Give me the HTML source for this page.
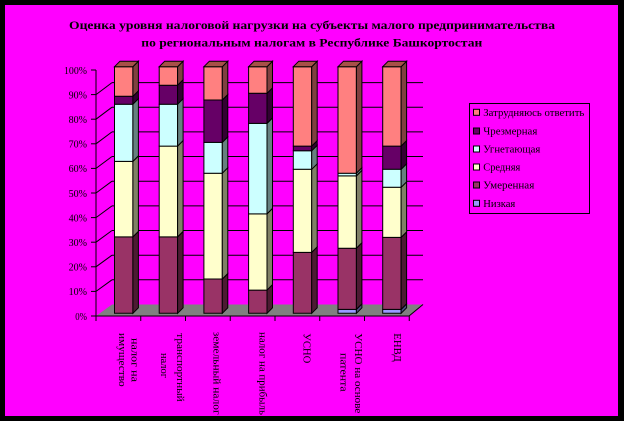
<!DOCTYPE html>
<html>
<head>
<meta charset="utf-8">
<style>
html,body{margin:0;padding:0;background:#000;}
svg{display:block;}
text{font-family:"Liberation Serif","DejaVu Serif",serif;fill:#000;}
</style>
</head>
<body>
<svg width="624" height="421" viewBox="0 0 624 421" xmlns="http://www.w3.org/2000/svg">
<rect x="0" y="0" width="624" height="421" fill="#000"/>
<rect x="5" y="5" width="613" height="411" fill="#FF00FF"/>

<!-- Title -->
<text x="69" y="29" font-size="12" font-weight="bold" textLength="486" lengthAdjust="spacingAndGlyphs">Оценка уровня налоговой нагрузки на субъекты малого предпринимательства</text>
<text x="141.3" y="46.5" font-size="12" font-weight="bold" textLength="341" lengthAdjust="spacingAndGlyphs">по региональным налогам в Республике Башкортостан</text>

<!-- Floor -->
<polygon points="96,316 409,316 423,304.5 112,304.5" fill="#808080"/>
<line x1="409" y1="316" x2="423" y2="304.5" stroke="#000" stroke-width="1"/>

<!-- Back wall gridlines and left wall diagonals -->
<g stroke="#000" stroke-width="1" fill="none">
<line x1="112" y1="279.8" x2="423" y2="279.8"/>
<line x1="112" y1="255.2" x2="423" y2="255.2"/>
<line x1="112" y1="230.5" x2="423" y2="230.5"/>
<line x1="112" y1="205.9" x2="423" y2="205.9"/>
<line x1="112" y1="181.2" x2="423" y2="181.2"/>
<line x1="112" y1="156.5" x2="423" y2="156.5"/>
<line x1="112" y1="131.9" x2="423" y2="131.9"/>
<line x1="112" y1="107.2" x2="423" y2="107.2"/>
<line x1="112" y1="82.6" x2="423" y2="82.6"/>
<line x1="96" y1="291.4" x2="112" y2="279.8"/>
<line x1="96" y1="266.8" x2="112" y2="255.2"/>
<line x1="96" y1="242.2" x2="112" y2="230.5"/>
<line x1="96" y1="217.6" x2="112" y2="205.9"/>
<line x1="96" y1="193" x2="112" y2="181.2"/>
<line x1="96" y1="168.4" x2="112" y2="156.5"/>
<line x1="96" y1="143.8" x2="112" y2="131.9"/>
<line x1="96" y1="119.2" x2="112" y2="107.2"/>
<line x1="96" y1="94.6" x2="112" y2="82.6"/>
</g>

<!-- Axes -->
<g stroke="#000" stroke-width="1">
<line x1="96" y1="70" x2="96" y2="321"/>
<line x1="91" y1="316" x2="409.5" y2="316"/>
<line x1="91" y1="291.4" x2="96" y2="291.4"/>
<line x1="91" y1="266.8" x2="96" y2="266.8"/>
<line x1="91" y1="242.2" x2="96" y2="242.2"/>
<line x1="91" y1="217.6" x2="96" y2="217.6"/>
<line x1="91" y1="193" x2="96" y2="193"/>
<line x1="91" y1="168.4" x2="96" y2="168.4"/>
<line x1="91" y1="143.8" x2="96" y2="143.8"/>
<line x1="91" y1="119.2" x2="96" y2="119.2"/>
<line x1="91" y1="94.6" x2="96" y2="94.6"/>
<line x1="91" y1="70" x2="96" y2="70"/>
<line x1="140.75" y1="316" x2="140.75" y2="321"/>
<line x1="185.5" y1="316" x2="185.5" y2="321"/>
<line x1="230.25" y1="316" x2="230.25" y2="321"/>
<line x1="275" y1="316" x2="275" y2="321"/>
<line x1="319.75" y1="316" x2="319.75" y2="321"/>
<line x1="364.5" y1="316" x2="364.5" y2="321"/>
<line x1="409.25" y1="316" x2="409.25" y2="321"/>
</g>

<!-- Y labels -->
<g font-size="11" text-anchor="end">
<text x="87" y="73.8" textLength="23" lengthAdjust="spacingAndGlyphs">100%</text>
<text x="87" y="98.4" textLength="18.4" lengthAdjust="spacingAndGlyphs">90%</text>
<text x="87" y="123" textLength="18.4" lengthAdjust="spacingAndGlyphs">80%</text>
<text x="87" y="147.6" textLength="18.4" lengthAdjust="spacingAndGlyphs">70%</text>
<text x="87" y="172.2" textLength="18.4" lengthAdjust="spacingAndGlyphs">60%</text>
<text x="87" y="196.8" textLength="18.4" lengthAdjust="spacingAndGlyphs">50%</text>
<text x="87" y="221.4" textLength="18.4" lengthAdjust="spacingAndGlyphs">40%</text>
<text x="87" y="246" textLength="18.4" lengthAdjust="spacingAndGlyphs">30%</text>
<text x="87" y="270.6" textLength="18.4" lengthAdjust="spacingAndGlyphs">20%</text>
<text x="87" y="295.2" textLength="18.4" lengthAdjust="spacingAndGlyphs">10%</text>
<text x="87" y="319.8" textLength="11.7" lengthAdjust="spacingAndGlyphs">0%</text>
</g>

<!-- Bars -->
<g stroke="#000" stroke-width="1" stroke-linejoin="miter">
<!-- Bar 1 -->
<g transform="translate(114.5,0)">
<polygon points="0,313.3 0,236.9 18.4,236.9 18.4,313.3" fill="#993366"/>
<polygon points="18.4,313.3 18.4,236.9 23.9,231.4 23.9,307.8" fill="#4D1A33"/>
<polygon points="0,236.9 0,161.4 18.4,161.4 18.4,236.9" fill="#FFFFCC"/>
<polygon points="18.4,236.9 18.4,161.4 23.9,155.9 23.9,231.4" fill="#808066"/>
<polygon points="0,161.4 0,104.2 18.4,104.2 18.4,161.4" fill="#CCFFFF"/>
<polygon points="18.4,161.4 18.4,104.2 23.9,98.7 23.9,155.9" fill="#668080"/>
<polygon points="0,104.2 0,96.3 18.4,96.3 18.4,104.2" fill="#660066"/>
<polygon points="18.4,104.2 18.4,96.3 23.9,90.8 23.9,98.7" fill="#330033"/>
<polygon points="0,96.3 0,66.7 18.4,66.7 18.4,96.3" fill="#FF8080"/>
<polygon points="18.4,96.3 18.4,66.7 23.9,61.2 23.9,90.8" fill="#804040"/>
<polygon points="0,66.7 5.5,61.2 23.9,61.2 18.4,66.7" fill="#A85048"/>
</g>
<!-- Bar 2 -->
<g transform="translate(159.2,0)">
<polygon points="0,313.3 0,236.9 18.4,236.9 18.4,313.3" fill="#993366"/>
<polygon points="18.4,313.3 18.4,236.9 23.9,231.4 23.9,307.8" fill="#4D1A33"/>
<polygon points="0,236.9 0,146.1 18.4,146.1 18.4,236.9" fill="#FFFFCC"/>
<polygon points="18.4,236.9 18.4,146.1 23.9,140.6 23.9,231.4" fill="#808066"/>
<polygon points="0,146.1 0,104.2 18.4,104.2 18.4,146.1" fill="#CCFFFF"/>
<polygon points="18.4,146.1 18.4,104.2 23.9,98.7 23.9,140.6" fill="#668080"/>
<polygon points="0,104.2 0,85.2 18.4,85.2 18.4,104.2" fill="#660066"/>
<polygon points="18.4,104.2 18.4,85.2 23.9,79.7 23.9,98.7" fill="#330033"/>
<polygon points="0,85.2 0,66.7 18.4,66.7 18.4,85.2" fill="#FF8080"/>
<polygon points="18.4,85.2 18.4,66.7 23.9,61.2 23.9,79.7" fill="#804040"/>
<polygon points="0,66.7 5.5,61.2 23.9,61.2 18.4,66.7" fill="#A85048"/>
</g>
<!-- Bar 3 -->
<g transform="translate(203.9,0)">
<polygon points="0,313.3 0,279 18.4,279 18.4,313.3" fill="#993366"/>
<polygon points="18.4,313.3 18.4,279 23.9,273.5 23.9,307.8" fill="#4D1A33"/>
<polygon points="0,279 0,173.2 18.4,173.2 18.4,279" fill="#FFFFCC"/>
<polygon points="18.4,279 18.4,173.2 23.9,167.7 23.9,273.5" fill="#808066"/>
<polygon points="0,173.2 0,142.4 18.4,142.4 18.4,173.2" fill="#CCFFFF"/>
<polygon points="18.4,173.2 18.4,142.4 23.9,136.9 23.9,167.7" fill="#668080"/>
<polygon points="0,142.4 0,100 18.4,100 18.4,142.4" fill="#660066"/>
<polygon points="18.4,142.4 18.4,100 23.9,94.5 23.9,136.9" fill="#330033"/>
<polygon points="0,100 0,66.7 18.4,66.7 18.4,100" fill="#FF8080"/>
<polygon points="18.4,100 18.4,66.7 23.9,61.2 23.9,94.5" fill="#804040"/>
<polygon points="0,66.7 5.5,61.2 23.9,61.2 18.4,66.7" fill="#A85048"/>
</g>
<!-- Bar 4 -->
<g transform="translate(248.6,0)">
<polygon points="0,313.3 0,290.1 18.4,290.1 18.4,313.3" fill="#993366"/>
<polygon points="18.4,313.3 18.4,290.1 23.9,284.6 23.9,307.8" fill="#4D1A33"/>
<polygon points="0,290.1 0,213.9 18.4,213.9 18.4,290.1" fill="#FFFFCC"/>
<polygon points="18.4,290.1 18.4,213.9 23.9,208.4 23.9,284.6" fill="#808066"/>
<polygon points="0,213.9 0,123.4 18.4,123.4 18.4,213.9" fill="#CCFFFF"/>
<polygon points="18.4,213.9 18.4,123.4 23.9,117.9 23.9,208.4" fill="#668080"/>
<polygon points="0,123.4 0,93.3 18.4,93.3 18.4,123.4" fill="#660066"/>
<polygon points="18.4,123.4 18.4,93.3 23.9,87.8 23.9,117.9" fill="#330033"/>
<polygon points="0,93.3 0,66.7 18.4,66.7 18.4,93.3" fill="#FF8080"/>
<polygon points="18.4,93.3 18.4,66.7 23.9,61.2 23.9,87.8" fill="#804040"/>
<polygon points="0,66.7 5.5,61.2 23.9,61.2 18.4,66.7" fill="#A85048"/>
</g>
<!-- Bar 5 -->
<g transform="translate(293.3,0)">
<polygon points="0,313.3 0,252.4 18.4,252.4 18.4,313.3" fill="#993366"/>
<polygon points="18.4,313.3 18.4,252.4 23.9,246.9 23.9,307.8" fill="#4D1A33"/>
<polygon points="0,252.4 0,169.3 18.4,169.3 18.4,252.4" fill="#FFFFCC"/>
<polygon points="18.4,252.4 18.4,169.3 23.9,163.8 23.9,246.9" fill="#808066"/>
<polygon points="0,169.3 0,150.8 18.4,150.8 18.4,169.3" fill="#CCFFFF"/>
<polygon points="18.4,169.3 18.4,150.8 23.9,145.3 23.9,163.8" fill="#668080"/>
<polygon points="0,150.8 0,146.1 18.4,146.1 18.4,150.8" fill="#660066"/>
<polygon points="18.4,150.8 18.4,146.1 23.9,140.6 23.9,145.3" fill="#330033"/>
<polygon points="0,146.1 0,66.7 18.4,66.7 18.4,146.1" fill="#FF8080"/>
<polygon points="18.4,146.1 18.4,66.7 23.9,61.2 23.9,140.6" fill="#804040"/>
<polygon points="0,66.7 5.5,61.2 23.9,61.2 18.4,66.7" fill="#A85048"/>
</g>
<!-- Bar 6 -->
<g transform="translate(338,0)">
<polygon points="0,313.3 0,309.4 18.4,309.4 18.4,313.3" fill="#9999FF"/>
<polygon points="18.4,313.3 18.4,309.4 23.9,303.9 23.9,307.8" fill="#4C4C80"/>
<polygon points="0,309.4 0,248.2 18.4,248.2 18.4,309.4" fill="#993366"/>
<polygon points="18.4,309.4 18.4,248.2 23.9,242.7 23.9,303.9" fill="#4D1A33"/>
<polygon points="0,248.2 0,175.9 18.4,175.9 18.4,248.2" fill="#FFFFCC"/>
<polygon points="18.4,248.2 18.4,175.9 23.9,170.4 23.9,242.7" fill="#808066"/>
<polygon points="0,175.9 0,173.2 18.4,173.2 18.4,175.9" fill="#CCFFFF"/>
<polygon points="18.4,175.9 18.4,173.2 23.9,167.7 23.9,170.4" fill="#668080"/>
<polygon points="0,173.2 0,66.7 18.4,66.7 18.4,173.2" fill="#FF8080"/>
<polygon points="18.4,173.2 18.4,66.7 23.9,61.2 23.9,167.7" fill="#804040"/>
<polygon points="0,66.7 5.5,61.2 23.9,61.2 18.4,66.7" fill="#A85048"/>
</g>
<!-- Bar 7 -->
<g transform="translate(382.7,0)">
<polygon points="0,313.3 0,309.4 18.4,309.4 18.4,313.3" fill="#9999FF"/>
<polygon points="18.4,313.3 18.4,309.4 23.9,303.9 23.9,307.8" fill="#4C4C80"/>
<polygon points="0,309.4 0,237.4 18.4,237.4 18.4,309.4" fill="#993366"/>
<polygon points="18.4,309.4 18.4,237.4 23.9,231.9 23.9,303.9" fill="#4D1A33"/>
<polygon points="0,237.4 0,187.3 18.4,187.3 18.4,237.4" fill="#FFFFCC"/>
<polygon points="18.4,237.4 18.4,187.3 23.9,181.8 23.9,231.9" fill="#808066"/>
<polygon points="0,187.3 0,169.3 18.4,169.3 18.4,187.3" fill="#CCFFFF"/>
<polygon points="18.4,187.3 18.4,169.3 23.9,163.8 23.9,181.8" fill="#668080"/>
<polygon points="0,169.3 0,146.1 18.4,146.1 18.4,169.3" fill="#660066"/>
<polygon points="18.4,169.3 18.4,146.1 23.9,140.6 23.9,163.8" fill="#330033"/>
<polygon points="0,146.1 0,66.7 18.4,66.7 18.4,146.1" fill="#FF8080"/>
<polygon points="18.4,146.1 18.4,66.7 23.9,61.2 23.9,140.6" fill="#804040"/>
<polygon points="0,66.7 5.5,61.2 23.9,61.2 18.4,66.7" fill="#A85048"/>
</g>
</g>

<!-- Category labels (rotated) -->
<g font-size="10">
<text transform="translate(131.7,338) rotate(90)" textLength="44" lengthAdjust="spacingAndGlyphs">налог на</text>
<text transform="translate(119,333) rotate(90)" textLength="53.7" lengthAdjust="spacingAndGlyphs">имущество</text>
<text transform="translate(177,333.3) rotate(90)" textLength="68.4" lengthAdjust="spacingAndGlyphs">транспортный</text>
<text transform="translate(161,353) rotate(90)" textLength="25" lengthAdjust="spacingAndGlyphs">налог</text>
<text transform="translate(213.5,331.7) rotate(90)" textLength="83" lengthAdjust="spacingAndGlyphs">земельный налог</text>
<text transform="translate(259.5,332) rotate(90)" textLength="83" lengthAdjust="spacingAndGlyphs">налог на прибыль</text>
<text transform="translate(303.5,333.3) rotate(90)" textLength="30" lengthAdjust="spacingAndGlyphs">УСНО</text>
<text transform="translate(355,333.3) rotate(90)" textLength="80" lengthAdjust="spacingAndGlyphs">УСНО на основе</text>
<text transform="translate(340.5,353) rotate(90)" textLength="38.7" lengthAdjust="spacingAndGlyphs">патента</text>
<text transform="translate(394,333.3) rotate(90)" textLength="28.4" lengthAdjust="spacingAndGlyphs">ЕНВД</text>
</g>

<!-- Legend -->
<rect x="469.5" y="103.5" width="120" height="110" fill="none" stroke="#000" stroke-width="1"/>
<g stroke="#000" stroke-width="1">
<rect x="473.5" y="109.3" width="6" height="6" fill="#FF8080"/>
<rect x="473.5" y="128" width="6" height="6" fill="#660066"/>
<rect x="473.5" y="146" width="6" height="6" fill="#CCFFFF"/>
<rect x="473.5" y="164" width="6" height="6" fill="#FFFFCC"/>
<rect x="473.5" y="182" width="6" height="6" fill="#993366"/>
<rect x="473.5" y="200.3" width="6" height="6" fill="#9999FF"/>
</g>
<g font-size="10">
<text x="483.3" y="115.8" textLength="101" lengthAdjust="spacingAndGlyphs">Затрудняюсь ответить</text>
<text x="483.3" y="134.5" textLength="54" lengthAdjust="spacingAndGlyphs">Чрезмерная</text>
<text x="483.3" y="152.5" textLength="57" lengthAdjust="spacingAndGlyphs">Угнетающая</text>
<text x="483.3" y="170.5" textLength="37" lengthAdjust="spacingAndGlyphs">Средняя</text>
<text x="483.3" y="188.5" textLength="51" lengthAdjust="spacingAndGlyphs">Умеренная</text>
<text x="483.3" y="206.8" textLength="32" lengthAdjust="spacingAndGlyphs">Низкая</text>
</g>
</svg>
</body>
</html>
